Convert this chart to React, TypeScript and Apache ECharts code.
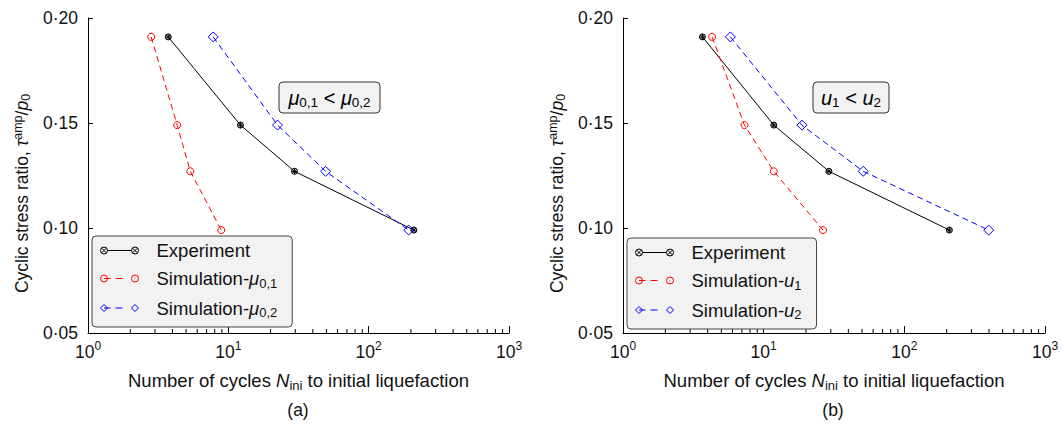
import React, { useEffect, useRef } from 'react';
import * as echarts from 'echarts';

// ---- data ----
const yTicks = [0.05, 0.1, 0.15, 0.2];
const xRange = [1, 1000];
const stressRatio = [0.191, 0.149, 0.127, 0.099];
const expCyclesA = [3.73, 12.2, 29.6, 210];
const simMu01Cycles = [2.82, 4.32, 5.36, 8.9];
const simMu02Cycles = [7.8, 22.4, 49.3, 193];
const expCyclesB = [3.67, 11.8, 29.1, 209];
const simU1Cycles = [4.3, 7.3, 11.8, 26.4];
const simU2Cycles = [5.8, 18.7, 51, 398];
const minorTickValues = [2, 3, 4, 5, 6, 7, 8, 9, 20, 30, 40, 50, 60, 70, 80, 90, 200, 300, 400, 500, 600, 700, 800, 900];

const FONT = "'Liberation Sans', Arial, sans-serif";

const expSymbol = 'path://M0,3 A3,3 0 1,1 6,3 A3,3 0 1,1 0,3 Z M0.9,0.9 L5.1,5.1 M5.1,0.9 L0.9,5.1 M3,0 L3,6 M0,3 L6,3';

const legendExpIcon =
  'path://M0,3.5 A3.5,3.5 0 1,1 7,3.5 A3.5,3.5 0 1,1 0,3.5 Z M1.2,1.2 L5.8,5.8 M5.8,1.2 L1.2,5.8 M7,3.5 L31,3.5 M31,3.5 A3.5,3.5 0 1,1 38,3.5 A3.5,3.5 0 1,1 31,3.5 Z M32.2,1.2 L36.8,5.8 M36.8,1.2 L32.2,5.8';
const legendRedIcon =
  'path://M0,3.5 A3.5,3.5 0 1,1 7,3.5 A3.5,3.5 0 1,1 0,3.5 Z M3.5,3.5 L10,3.5 M15,3.5 L22,3.5 M31,3.5 A3.5,3.5 0 1,1 38,3.5 A3.5,3.5 0 1,1 31,3.5 Z M34.2,3.5 L34.8,3.5';
const legendBlueIcon =
  'path://M0,3.5 L3.5,0 L7,3.5 L3.5,7 Z M3.5,3.5 L10,3.5 M15,3.5 L22,3.5 M31,3.5 L34.5,0 L38,3.5 L34.5,7 Z';

const mkRich = (size: number, subSize: number, lh: number) => ({
  n: { fontSize: size, fontFamily: FONT, color: '#111', lineHeight: lh, verticalAlign: 'middle' as const },
  i: { fontSize: size, fontFamily: FONT, color: '#111', fontStyle: 'italic' as const, lineHeight: lh, verticalAlign: 'middle' as const },
  sub: { fontSize: subSize, fontFamily: FONT, color: '#111', verticalAlign: 'bottom' as const },
  sup: { fontSize: subSize, fontFamily: FONT, color: '#111', verticalAlign: 'top' as const },
});

const legendLabels: Record<string, string> = {
  'Experiment': '{n|Experiment}',
  'Simulation-μ0,1': '{n|Simulation-}{i|μ}{sub|0,1}',
  'Simulation-μ0,2': '{n|Simulation-}{i|μ}{sub|0,2}',
  'Simulation-u1': '{n|Simulation-}{i|u}{sub|1}',
  'Simulation-u2': '{n|Simulation-}{i|u}{sub|2}',
};

const zip = (xs: number[], ys: number[]) => xs.map((x, k) => [x, ys[k]]);

function makeXAxis(gridIndex: number) {
  return {
    type: 'log' as const,
    logBase: 10,
    gridIndex,
    min: xRange[0],
    max: xRange[1],
    axisLine: { show: true, lineStyle: { color: '#000', width: 1 } },
    axisTick: { show: true, inside: true, length: 7, lineStyle: { color: '#000' } },
    splitLine: { show: false },
    axisLabel: {
      margin: 7,
      formatter: (v: number) => `{b|10}{s|${Math.round(Math.log10(v))}}`,
      rich: {
        b: { fontSize: 17.5, fontFamily: FONT, color: '#111', lineHeight: 24, verticalAlign: 'middle' },
        s: { fontSize: 12, fontFamily: FONT, color: '#111', verticalAlign: 'top' },
      },
    },
    name: '{n|Number of cycles }{i|N}{sub|ini}{n| to initial liquefaction}',
    nameLocation: 'middle' as const,
    nameGap: 35,
    nameTextStyle: { rich: mkRich(18.5, 13, 24) },
  };
}

function makeYAxis(gridIndex: number) {
  return {
    type: 'value' as const,
    gridIndex,
    min: yTicks[0],
    max: yTicks[yTicks.length - 1],
    interval: 0.05,
    axisLine: { show: true, lineStyle: { color: '#000', width: 1 } },
    axisTick: { show: true, inside: true, length: 5, lineStyle: { color: '#000' } },
    splitLine: { show: false },
    axisLabel: {
      margin: 10,
      fontSize: 17.5,
      fontFamily: FONT,
      color: '#111',
      formatter: (v: number) => v.toFixed(2).replace('.', '·'),
    },
    name: '{n|Cyclic stress ratio, }{i|τ}{sup|amp}{n|/}{i|p}{sub|0}',
    nameLocation: 'middle' as const,
    nameRotate: 90,
    nameGap: 56,
    nameTextStyle: { rich: mkRich(17.5, 12.5, 21), padding: [0, 36, 0, 0] },
  };
}

function lineSeries(name: string, xs: number[], idx: number, color: string, symbol: string, size: number, dashed: boolean) {
  return {
    type: 'line' as const,
    name,
    xAxisIndex: idx,
    yAxisIndex: idx,
    data: zip(xs, stressRatio),
    symbol,
    symbolSize: size,
    showSymbol: true,
    itemStyle: { color: 'rgba(0,0,0,0)', borderColor: color, borderWidth: 1 },
    lineStyle: { color, width: 1, type: dashed ? [6, 4] : 'solid' },
    emphasis: { disabled: true },
    z: 3,
  };
}

function minorTicks(idx: number) {
  return {
    type: 'custom' as const,
    xAxisIndex: idx,
    yAxisIndex: idx,
    silent: true,
    data: minorTickValues.map((v) => [v, yTicks[0]]),
    renderItem: (_p: any, api: any) => {
      const p = api.coord([api.value(0), api.value(1)]);
      return {
        type: 'line',
        shape: { x1: p[0], y1: p[1], x2: p[0], y2: p[1] - 4 },
        style: { stroke: '#000', lineWidth: 1 },
      };
    },
    z: 1,
  };
}

function legendItem(name: string, icon: string, color: string) {
  return { name, icon, itemStyle: { color: 'rgba(0,0,0,0)', borderColor: color, borderWidth: 1 } };
}

function makeLegend(left: number, top: number, names: string[]) {
  return {
    orient: 'vertical' as const,
    left,
    top,
    itemWidth: 38,
    itemHeight: 7,
    itemGap: 9,
    padding: [5, 15, 8, 8],
    backgroundColor: '#f2f2f2',
    borderColor: '#444',
    borderWidth: 1,
    borderRadius: 4,
    selectedMode: false,
    data: [
      legendItem(names[0], legendExpIcon, '#000'),
      legendItem(names[1], legendRedIcon, '#ff0000'),
      legendItem(names[2], legendBlueIcon, '#0000ff'),
    ],
    formatter: (name: string) => legendLabels[name] || name,
    textStyle: { padding: [0, 0, 0, 13], rich: mkRich(18.5, 13, 22) },
  };
}

function annotation(cx: number, cy: number, w: number, text: string) {
  return {
    type: 'group' as const,
    children: [
      {
        type: 'rect' as const,
        shape: { x: cx - w / 2, y: cy - 15.5, width: w, height: 31, r: 4 },
        style: { fill: '#f2f2f2', stroke: '#333', lineWidth: 1 },
      },
      {
        type: 'text' as const,
        x: cx,
        y: cy,
        style: {
          text,
          align: 'center',
          verticalAlign: 'middle',
          rich: {
            i: { fontSize: 20, fontFamily: FONT, color: '#111', fontStyle: 'italic', lineHeight: 24, verticalAlign: 'middle' },
            n: { fontSize: 20, fontFamily: FONT, color: '#111', lineHeight: 24, verticalAlign: 'middle' },
            s: { fontSize: 13.5, fontFamily: FONT, color: '#111', verticalAlign: 'bottom' },
          },
        },
      },
    ],
  };
}

export default function App() {
  const ref = useRef<HTMLDivElement>(null);
  useEffect(() => {
    if (!ref.current) return;
    const chart = echarts.init(ref.current, undefined, { renderer: 'svg' });
    chart.setOption({
      animation: false,
      grid: [
        { left: 88, top: 18, width: 421, height: 315 },
        { left: 623, top: 18, width: 422, height: 315 },
      ],
      xAxis: [makeXAxis(0), makeXAxis(1)],
      yAxis: [makeYAxis(0), makeYAxis(1)],
      legend: [
        makeLegend(92, 236, ['Experiment', 'Simulation-μ0,1', 'Simulation-μ0,2']),
        makeLegend(627, 238, ['Experiment', 'Simulation-u1', 'Simulation-u2']),
      ],
      series: [
        minorTicks(0),
        minorTicks(1),
        lineSeries('Experiment', expCyclesA, 0, '#000', expSymbol, 6, false),
        lineSeries('Simulation-μ0,1', simMu01Cycles, 0, '#ff0000', 'circle', 7, true),
        lineSeries('Simulation-μ0,2', simMu02Cycles, 0, '#0000ff', 'diamond', 10, true),
        lineSeries('Experiment', expCyclesB, 1, '#000', expSymbol, 6, false),
        lineSeries('Simulation-u1', simU1Cycles, 1, '#ff0000', 'circle', 7, true),
        lineSeries('Simulation-u2', simU2Cycles, 1, '#0000ff', 'diamond', 10, true),
      ],
      graphic: [
        annotation(329.5, 97.5, 101, '{i|μ}{s|0,1}{n| < }{i|μ}{s|0,2}'),
        annotation(851, 97.5, 76, '{i|u}{s|1}{n| < }{i|u}{s|2}'),
        {
          type: 'text',
          x: 298,
          y: 410,
          style: { text: '(a)', fontSize: 17.5, fontFamily: FONT, fill: '#111', align: 'center', verticalAlign: 'middle' },
        },
        {
          type: 'text',
          x: 833,
          y: 410,
          style: { text: '(b)', fontSize: 17.5, fontFamily: FONT, fill: '#111', align: 'center', verticalAlign: 'middle' },
        },
      ],
    });
    return () => chart.dispose();
  }, []);
  return (
    <div
      ref={ref}
      style={{ position: 'fixed', left: 0, top: 0, width: 1063, height: 425, background: '#fff' }}
    />
  );
}
